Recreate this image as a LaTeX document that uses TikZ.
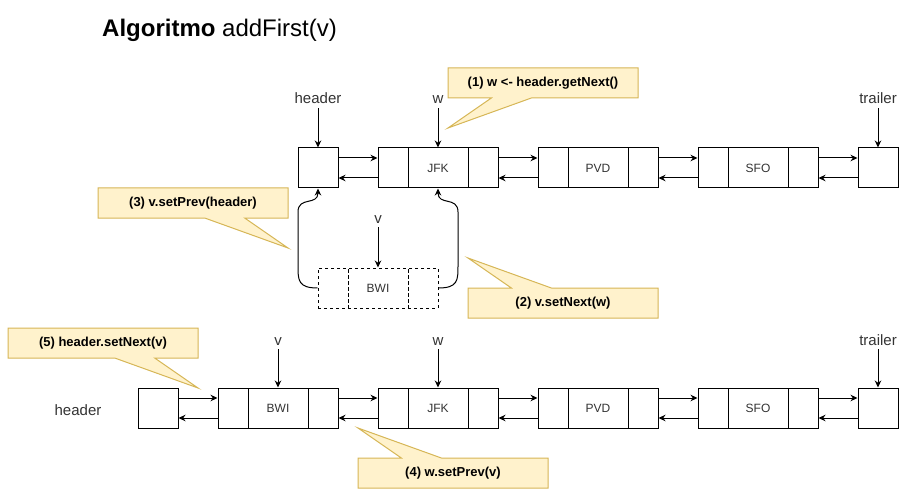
\documentclass[tikz,border=0pt]{standalone}
\usepackage{fontspec}
\setmainfont{Liberation Sans}
\usetikzlibrary{%
        arrows.meta,
        shapes.callouts
    }
\definecolor{notefill}{RGB}{255, 242, 204}
\definecolor{noteline}{RGB}{214, 182, 86}
\definecolor{ink}{RGB}{51, 51, 51}
\tikzstyle{box} = [draw, line width=1pt, minimum width=40pt, minimum height=40pt,
    inner sep=0pt]
\tikzstyle{cell} = [draw, line width=1pt, minimum width=30pt, minimum height=40pt,
    inner sep=0pt]
\tikzstyle{data} = [draw, line width=1pt, minimum width=60pt, minimum height=40pt,
    inner sep=0pt, text=ink, font=\fontsize{12}{14}\selectfont]
\tikzstyle{lbl} = [anchor=base, inner sep=1pt, text height=11pt, text depth=3pt,
    text=ink, font=\fontsize{15}{18}\selectfont]
\tikzstyle{note} = [rectangle callout, draw=noteline, fill=notefill, line width=1pt,
    minimum width=190pt, minimum height=30pt, inner sep=0pt,
    callout pointer width=40pt, font=\bfseries\fontsize{13}{15}\selectfont]
\tikzstyle{link} = [-{Stealth[length=7pt, width=6.5pt]}, line width=1pt]

\begin{document}
\begin{tikzpicture}[x=1pt, y=-1pt]
    \useasboundingbox (0, 0) rectangle (907, 497);
    \node[anchor=base west, inner sep=0pt, font=\fontsize{24}{28}\selectfont]
        (title) at (102, 37) {\textbf{Algoritmo} addFirst(v)};

    % list before the insertion
    \node[box] (head-top) at (318, 168) {};
    \node[cell] (jfk-top-prev) at (393, 168) {};
    \node[data] (jfk-top) at (438, 168) {JFK};
    \node[cell] (jfk-top-next) at (483, 168) {};
    \node[cell] (pvd-top-prev) at (553, 168) {};
    \node[data] (pvd-top) at (598, 168) {PVD};
    \node[cell] (pvd-top-next) at (643, 168) {};
    \node[cell] (sfo-top-prev) at (713, 168) {};
    \node[data] (sfo-top) at (758, 168) {SFO};
    \node[cell] (sfo-top-next) at (803, 168) {};
    \node[box] (trail-top) at (878, 168) {};

    \node[lbl] (head-top-lbl) at (318, 104) {header};
    \node[lbl] (w-top-lbl) at (438, 104) {w};
    \node[lbl] (trail-top-lbl) at (878, 104) {trailer};

    % new node
    \node[cell, dashed] (bwi-new-prev) at (333, 288) {};
    \node[data, dashed] (bwi-new) at (378, 288) {BWI};
    \node[cell, dashed] (bwi-new-next) at (423, 288) {};
    \node[lbl] (v-new-lbl) at (378, 223) {v};

    % list after the insertion
    \node[box] (head-bot) at (158, 408) {};
    \node[cell] (bwi-bot-prev) at (233, 408) {};
    \node[data] (bwi-bot) at (278, 408) {BWI};
    \node[cell] (bwi-bot-next) at (323, 408) {};
    \node[cell] (jfk-bot-prev) at (393, 408) {};
    \node[data] (jfk-bot) at (438, 408) {JFK};
    \node[cell] (jfk-bot-next) at (483, 408) {};
    \node[cell] (pvd-bot-prev) at (553, 408) {};
    \node[data] (pvd-bot) at (598, 408) {PVD};
    \node[cell] (pvd-bot-next) at (643, 408) {};
    \node[cell] (sfo-bot-prev) at (713, 408) {};
    \node[data] (sfo-bot) at (758, 408) {SFO};
    \node[cell] (sfo-bot-next) at (803, 408) {};
    \node[box] (trail-bot) at (878, 408) {};

    \node[lbl] (head-bot-lbl) at (78, 415) {header};
    \node[lbl] (v-bot-lbl) at (278, 345) {v};
    \node[lbl] (w-bot-lbl) at (438, 345) {w};
    \node[lbl] (trail-bot-lbl) at (878, 345) {trailer};

    % callouts
    \node[note, callout absolute pointer={(448, 128)}] (step-one) at (543, 83)
        {(1) w <- header.getNext()};
    \node[note, callout absolute pointer={(468, 258)}] (step-two) at (563, 303)
        {(2) v.setNext(w)};
    \node[note, callout absolute pointer={(288, 248)}] (step-three) at (193, 203)
        {(3) v.setPrev(header)};
    \node[note, callout absolute pointer={(358, 428)}] (step-four) at (453, 473)
        {(4) w.setPrev(v)};
    \node[note, callout absolute pointer={(198, 388)}] (step-five) at (103, 343)
        {(5) header.setNext(v)};

    % pointers from labels
    \draw[link] (head-top-lbl) -- (head-top);
    \draw[link] (w-top-lbl) -- (jfk-top);
    \draw[link] (trail-top-lbl) -- (trail-top);
    \draw[link] (v-new-lbl) -- (bwi-new);
    \draw[link] (v-bot-lbl) -- (bwi-bot);
    \draw[link] (w-bot-lbl) -- (jfk-bot);
    \draw[link] (trail-bot-lbl) -- (trail-bot);

    % next / prev links, top row
    \draw[link] ([yshift=10pt]head-top.east) -- ([yshift=10pt]jfk-top-prev.west);
    \draw[link] ([yshift=-10pt]jfk-top-prev.west) -- ([yshift=-10pt]head-top.east);
    \draw[link] ([yshift=10pt]jfk-top-next.east) -- ([yshift=10pt]pvd-top-prev.west);
    \draw[link] ([yshift=-10pt]pvd-top-prev.west) -- ([yshift=-10pt]jfk-top-next.east);
    \draw[link] ([yshift=10pt]pvd-top-next.east) -- ([yshift=10pt]sfo-top-prev.west);
    \draw[link] ([yshift=-10pt]sfo-top-prev.west) -- ([yshift=-10pt]pvd-top-next.east);
    \draw[link] ([yshift=10pt]sfo-top-next.east) -- ([yshift=10pt]trail-top.west);
    \draw[link] ([yshift=-10pt]trail-top.west) -- ([yshift=-10pt]sfo-top-next.east);

    % links of the new node
    \draw[link] (bwi-new-prev.west) .. controls (298, 288) and (298, 280) .. (298, 266)
        -- (298, 212) .. controls (298, 196) and (318, 206) .. (head-top.south);
    \draw[link] (bwi-new-next.east) .. controls (458, 288) and (458, 280) .. (458, 266)
        -- (458, 212) .. controls (458, 196) and (438, 206) .. (jfk-top.south);

    % next / prev links, bottom row
    \draw[link] ([yshift=10pt]head-bot.east) -- ([yshift=10pt]bwi-bot-prev.west);
    \draw[link] ([yshift=-10pt]bwi-bot-prev.west) -- ([yshift=-10pt]head-bot.east);
    \draw[link] ([yshift=10pt]bwi-bot-next.east) -- ([yshift=10pt]jfk-bot-prev.west);
    \draw[link] ([yshift=-10pt]jfk-bot-prev.west) -- ([yshift=-10pt]bwi-bot-next.east);
    \draw[link] ([yshift=10pt]jfk-bot-next.east) -- ([yshift=10pt]pvd-bot-prev.west);
    \draw[link] ([yshift=-10pt]pvd-bot-prev.west) -- ([yshift=-10pt]jfk-bot-next.east);
    \draw[link] ([yshift=10pt]pvd-bot-next.east) -- ([yshift=10pt]sfo-bot-prev.west);
    \draw[link] ([yshift=-10pt]sfo-bot-prev.west) -- ([yshift=-10pt]pvd-bot-next.east);
    \draw[link] ([yshift=10pt]sfo-bot-next.east) -- ([yshift=10pt]trail-bot.west);
    \draw[link] ([yshift=-10pt]trail-bot.west) -- ([yshift=-10pt]sfo-bot-next.east);
\end{tikzpicture}
\end{document}
